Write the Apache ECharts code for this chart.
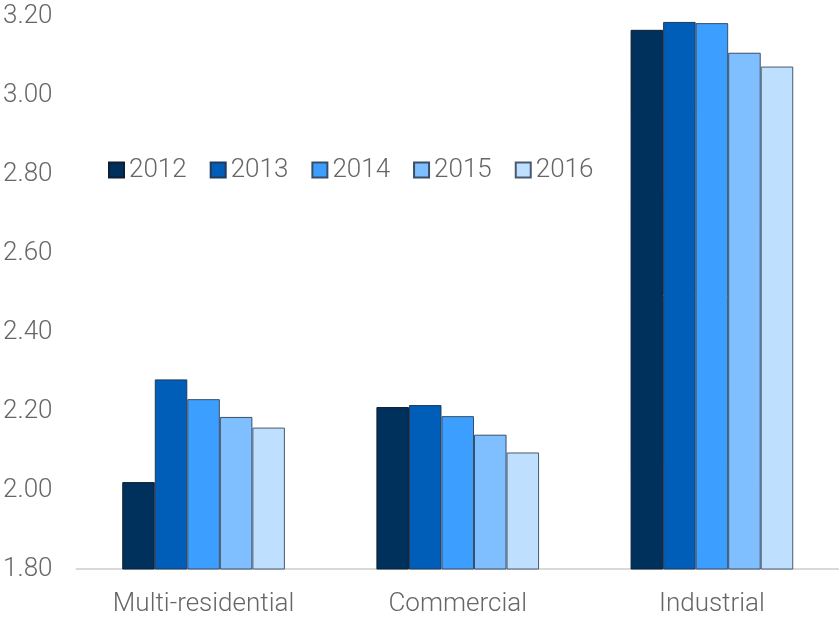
<!DOCTYPE html>
<html>
<head>
<meta charset="utf-8">
<script src="https://cdn.jsdelivr.net/npm/echarts@6/dist/echarts.min.js"></script>
<style>
  html, body { margin: 0; padding: 0; background: #ffffff; }
  #chart { width: 839px; height: 617px; }
</style>
</head>
<body>
<div id="chart"></div>
<script>
// Property categories along the x axis
const categories = ['Multi-residential', 'Commercial', 'Industrial'];

// Yearly values per category
const years = ['2012', '2013', '2014', '2015', '2016'];
const v2012 = [2.02, 2.21, 3.165];
const v2013 = [2.28, 2.215, 3.185];
const v2014 = [2.23, 2.187, 3.182];
const v2015 = [2.185, 2.14, 3.107];
const v2016 = [2.158, 2.095, 3.072];
const seriesValues = [v2012, v2013, v2014, v2015, v2016];

const colors = ['#00305C', '#005EB8', '#3C9EFF', '#7FBEFF', '#BFDFFF'];
const borders = ['#0f1f33', '#1e3a5c', '#3a4e66', '#3a4e66', '#4a5a6e'];

const FONT = 'Roboto';
const TEXT = '#666666';

const chart = echarts.init(document.getElementById('chart'), null, { renderer: 'canvas' });

chart.setOption({
  animation: false,
  backgroundColor: '#ffffff',
  grid: { left: 76, right: 0, top: 16, bottom: 47, containLabel: false },
  legend: {
    data: years,
    left: 103,
    top: 152,
    itemWidth: 15,
    itemHeight: 15,
    itemGap: 23,
    icon: 'rect',
    textStyle: { fontFamily: FONT, fontSize: 26, color: TEXT, fontWeight: 300 }
  },
  xAxis: {
    type: 'category',
    data: categories,
    axisLine: { lineStyle: { color: '#d9d9d9', width: 2 } },
    axisTick: { show: false },
    axisLabel: { fontFamily: FONT, fontSize: 26, color: TEXT, fontWeight: 300, margin: 22 }
  },
  yAxis: {
    type: 'value',
    min: 1.8,
    max: 3.2,
    interval: 0.2,
    splitLine: { show: false },
    axisLine: { show: false },
    axisTick: { show: false },
    axisLabel: {
      fontFamily: FONT, fontSize: 26, color: TEXT, fontWeight: 300, margin: 24,
      formatter: v => v.toFixed(2)
    }
  },
  series: years.map((y, i) => ({
    name: y,
    type: 'bar',
    data: seriesValues[i],
    barGap: '0%',
    barCategoryGap: '36%',
    itemStyle: { color: colors[i], borderColor: borders[i], borderWidth: 1 }
  }))
});
</script>
</body>
</html>
